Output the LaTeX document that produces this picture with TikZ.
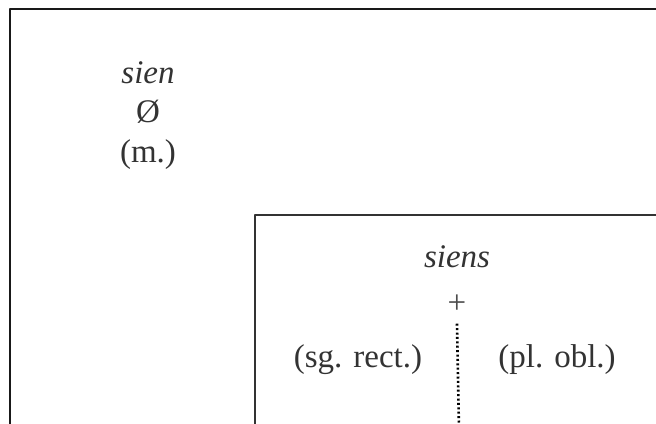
\documentclass[tikz,border=0pt]{standalone}
\usepackage{fontspec}
\setmainfont{Liberation Serif}
\begin{document}
\begin{tikzpicture}[x=0.5pt,y=-0.5pt,line join=round,font=\fontsize{16.5}{20}\selectfont,text=black!80]
			\useasboundingbox (0,0) rectangle (656,423);
			\path
			(10,430) coordinate (OB)
			(10,9) coordinate (OA)
			(660,9) coordinate (OC)
			(255,430) coordinate (IB)
			(255,215) coordinate (IA)
			(660,215) coordinate (IC)
			(148,73) node (sien) {\itshape sien}
			(148,112) node (zero) {Ø}
			(148,155) node (masc) {(m.)}
			(457,257) node (siens) {\itshape siens}
			(457,304) node[inner sep=1pt,text=black!70] (plus) {+}
			(459,430) coordinate (cut)
			(358,360) node (sgrect) {(sg. rect.)}
			(557,360) node (plobl) {(pl. obl.)}
			;
			\draw[line width=1.3pt,black!90]
			(OB)--(OA)--(OC)
			;
			\draw[line width=0.9pt,black!80]
			(IB)--(IA)--(IC)
			;
			\draw[line width=1.3pt,dash pattern=on 1pt off 1.2pt]
			(plus.south)++(0,8) -- (cut)
			;
		\end{tikzpicture}
\end{document}
